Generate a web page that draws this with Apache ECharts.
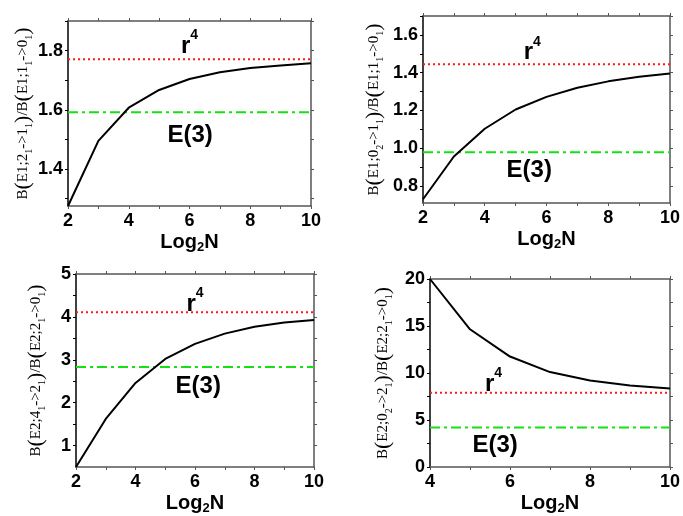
<!DOCTYPE html>
<html>
<head>
<meta charset="utf-8">
<script src="https://cdn.jsdelivr.net/npm/echarts@6/dist/echarts.min.js"></script>
<style>
html,body{margin:0;padding:0;background:#fff;}
#main{width:683px;height:516px;}
</style>
</head>
<body>
<div id="main"></div>
<script>
// ---------- data ----------
const xN = [2, 3, 4, 5, 6, 7, 8, 9, 10];
const xN4 = [4, 5, 6, 7, 8, 9, 10];
const ratioE1a = [1.275, 1.495, 1.607, 1.667, 1.704, 1.727, 1.741, 1.750, 1.757];
const ratioE1b = [0.730, 0.956, 1.103, 1.205, 1.272, 1.320, 1.354, 1.378, 1.396];
const ratioE2a = [0.50, 1.62, 2.46, 3.02, 3.37, 3.61, 3.77, 3.87, 3.93];
const ratioE2b = [20.0, 14.65, 11.75, 10.1, 9.2, 8.67, 8.35];
const r4Values = [1.771, 1.444, 4.11, 7.9];
const e3Values = [1.592, 0.979, 2.83, 4.2];
const r4LabelPos = [[6.0, 1.824], [5.54, 1.521], [6.0, 4.37], [5.59, 9.14]];
const e3LabelPos = [[6.02, 1.519], [5.44, 0.893], [6.11, 2.43], [5.63, 2.5]];
const yRanges = [[1.275, 1.9], [0.71, 1.7], [0.5, 5], [0, 20]];
const xRanges = [[2, 10], [2, 10], [2, 10], [4, 10]];
const xTickLabels = [[2, 4, 6, 8, 10], [2, 4, 6, 8, 10], [2, 4, 6, 8, 10], [4, 6, 8, 10]];
const xMinorTicks = [[2,3,4,5,6,7,8,9,10],[2,3,4,5,6,7,8,9,10],[2,3,4,5,6,7,8,9,10],[4,5,6,7,8,9,10]];
const yTickLabels = [[1.4, 1.6, 1.8], [0.8, 1.0, 1.2, 1.4, 1.6], [1, 2, 3, 4, 5], [0, 5, 10, 15, 20]];
const yTicks = [[1.3, 1.4, 1.5, 1.6, 1.7, 1.8, 1.9], [0.8, 0.9, 1.0, 1.1, 1.2, 1.3, 1.4, 1.5, 1.6, 1.7],
                [1, 1.5, 2, 2.5, 3, 3.5, 4, 4.5, 5], [0, 2.5, 5, 7.5, 10, 12.5, 15, 17.5, 20]];
const yDecimals = [1, 1, 0, 0];
const yNames = [
  ['E1;2', '->1', 'E1;1', '->0'],
  ['E1;0', '->1', 'E1;1', '->0'],
  ['E2;4', '->2', 'E2;2', '->0'],
  ['E2;0', '->2', 'E2;2', '->0']
];
const ySubs = [['1','1','1','1'], ['2','1','1','1'], ['1','1','1','1'], ['2','1','1','1']];

// ---------- layout ----------
const grids = [
  {left: 68, top: 21, width: 243, height: 185},
  {left: 423, top: 16, width: 249, height: 187},
  {left: 76, top: 274, width: 238, height: 193},
  {left: 430, top: 279, width: 245, height: 190}
];
const yNameGaps = [34, 38, 29, 36];

const sans = 'Liberation Sans, Arial, sans-serif';
const serif = 'Liberation Serif, Times New Roman, serif';
const gray = '#555';

function yName(i) {
  const n = yNames[i], s = ySubs[i];
  return '{t|B}{p|(}{t|' + n[0] + '}{s|' + s[0] + '}{t|' + n[1] + '}{s|' + s[1] + '}{p|)}{t|/B}{p|(}{t|' +
    n[2] + '}{s|' + s[2] + '}{t|' + n[3] + '}{s|' + s[3] + '}{p|)}';
}
const yRich = {
  t: {fontFamily: serif, fontSize: 15, color: '#000', lineHeight: 22, verticalAlign: 'middle'},
  p: {fontFamily: serif, fontSize: 22, color: '#000', lineHeight: 22, verticalAlign: 'middle'},
  s: {fontFamily: serif, fontSize: 10, color: '#000', lineHeight: 12, verticalAlign: 'bottom'}
};
const xRich = {
  a: {fontFamily: sans, fontWeight: 'bold', fontSize: 20, color: '#000', lineHeight: 24, verticalAlign: 'middle'},
  s: {fontFamily: sans, fontWeight: 'bold', fontSize: 13, color: '#000', lineHeight: 12, verticalAlign: 'bottom'}
};
const annRich = {
  b: {fontFamily: sans, fontWeight: 'bold', fontSize: 24, color: '#000', lineHeight: 28, verticalAlign: 'bottom'},
  sup: {fontFamily: sans, fontWeight: 'bold', fontSize: 14, color: '#000', lineHeight: 30, verticalAlign: 'top'}
};

const xAxes = [], yAxes = [], series = [];
const curves = [ratioE1a, ratioE1b, ratioE2a, ratioE2b];
const curveX = [xN, xN, xN, xN4];

for (let i = 0; i < 4; i++) {
  const [xmin, xmax] = xRanges[i];
  const [ymin, ymax] = yRanges[i];
  const labelStyle = {fontFamily: sans, fontWeight: 'bold', fontSize: 18, color: '#000'};
  xAxes.push({
    type: 'value', gridIndex: i, position: 'bottom', min: xmin, max: xmax,
    axisLine: {show: true, onZero: false, lineStyle: {color: gray, width: 1.5}},
    axisTick: {show: true, inside: false, length: 3, customValues: xMinorTicks[i], lineStyle: {color: gray, width: 1}},
    axisLabel: Object.assign({show: true, margin: 6, customValues: xTickLabels[i]}, labelStyle),
    splitLine: {show: false},
    name: '{a|Log}{s|2}{a|N}', nameLocation: 'middle', nameGap: 24,
    nameTextStyle: {rich: xRich}
  });
  xAxes.push({
    type: 'value', gridIndex: i, position: 'top', min: xmin, max: xmax,
    axisLine: {show: true, onZero: false, lineStyle: {color: gray, width: 1.5}},
    axisTick: {show: true, inside: false, length: 3, customValues: xMinorTicks[i], lineStyle: {color: gray, width: 1}},
    axisLabel: {show: false}, splitLine: {show: false}
  });
  yAxes.push({
    type: 'value', gridIndex: i, position: 'left', min: ymin, max: ymax,
    axisLine: {show: true, onZero: false, lineStyle: {color: '#000', width: 1.5}},
    axisTick: {show: true, inside: false, length: 3, customValues: yTicks[i], lineStyle: {color: '#000', width: 1}},
    axisLabel: Object.assign({show: true, margin: 5, customValues: yTickLabels[i],
      formatter: (v) => Number(v).toFixed(yDecimals[i])}, labelStyle),
    splitLine: {show: false},
    name: yName(i), nameLocation: 'middle', nameGap: yNameGaps[i], nameRotate: 90,
    nameTextStyle: {rich: yRich}
  });
  yAxes.push({
    type: 'value', gridIndex: i, position: 'right', min: ymin, max: ymax,
    axisLine: {show: true, onZero: false, lineStyle: {color: gray, width: 1.5}},
    axisTick: {show: true, inside: false, length: 3, customValues: yTicks[i], lineStyle: {color: gray, width: 1}},
    axisLabel: {show: false}, splitLine: {show: false}
  });

  const xi = i * 2, yi = i * 2;
  series.push({
    type: 'line', xAxisIndex: xi, yAxisIndex: yi, symbol: 'none', silent: true,
    data: [[xmin, r4Values[i]], [xmax, r4Values[i]]],
    lineStyle: {color: '#ff1a1a', width: 2, type: [2, 3]},
    markPoint: {
      symbol: 'circle', symbolSize: 1, itemStyle: {color: 'rgba(0,0,0,0)'},
      label: {show: true, position: 'inside', formatter: '{b|r}{sup|4}', rich: annRich},
      data: [{coord: r4LabelPos[i]}]
    }
  });
  series.push({
    type: 'line', xAxisIndex: xi, yAxisIndex: yi, symbol: 'none', silent: true,
    data: [[xmin, e3Values[i]], [xmax, e3Values[i]]],
    lineStyle: {color: '#14e014', width: 2, type: [10, 4, 3, 4]},
    markPoint: {
      symbol: 'circle', symbolSize: 1, itemStyle: {color: 'rgba(0,0,0,0)'},
      label: {show: true, position: 'inside', formatter: '{b|E(3)}', rich: annRich},
      data: [{coord: e3LabelPos[i]}]
    }
  });
  series.push({
    type: 'line', xAxisIndex: xi, yAxisIndex: yi, symbol: 'none', silent: true,
    data: curveX[i].map((x, k) => [x, curves[i][k]]),
    lineStyle: {color: '#000', width: 2}
  });
}

const chart = echarts.init(document.getElementById('main'), null, {renderer: 'canvas'});
chart.setOption({
  animation: false,
  backgroundColor: '#fff',
  grid: grids.map(g => Object.assign({containLabel: false}, g)),
  xAxis: xAxes,
  yAxis: yAxes,
  series: series
});
</script>
</body>
</html>
